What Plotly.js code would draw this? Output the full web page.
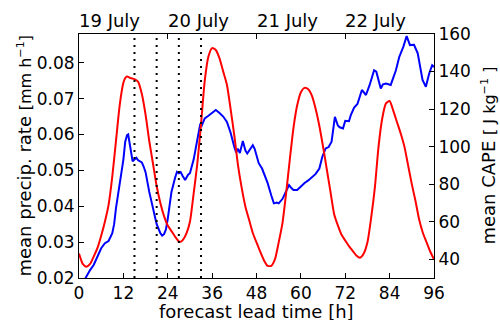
<!DOCTYPE html>
<html>
<head>
<meta charset="utf-8">
<script src="https://cdn.plot.ly/plotly-3.0.1.min.js"></script>
<style>html,body{margin:0;padding:0;background:#fff;}#chart{width:500px;height:320px;}</style>
</head>
<body>
<div id="chart"></div>
<script>
// forecast lead time [h] for the precipitation series
const precipHours = [1.5,2,3,4,5,6,7,7.5,8,9,9.5,10,11,12,12.5,13,13.3,14,14.5,15,15.5,16,17,17.5,18,19,20,21,22,22.5,23,23.5,24,25,26,26.5,27,27.5,28,28.7,29.5,30,31,32,32.8,33.2,34,35,36,37,38,39,40,41,42,42.5,43,43.5,44.3,45,45.5,46,47,47.5,48,48.6,49.5,50,51,52,52.7,53.5,54,55,56,56.8,57.5,58,59,60,61,62,63,64,65,65.8,66.7,67.5,68.3,69.2,70,70.5,71.4,72,73,73.5,74.4,75.3,76.5,77.6,78.6,79.8,80.4,81.6,82.2,83,84.3,85.7,86.6,87.7,88.6,89.5,90.6,91.6,92.9,93.8,94.7,95.5,96];
// mean precipitation rate [mm h^-1]
const precipRate = [0.0195,0.0205,0.0222,0.0237,0.0262,0.0283,0.0297,0.0301,0.0303,0.0325,0.0350,0.0395,0.0462,0.0530,0.0580,0.0598,0.0600,0.0560,0.0525,0.0530,0.0535,0.0528,0.0522,0.0510,0.0495,0.0440,0.0395,0.0350,0.0325,0.0318,0.0322,0.0335,0.0365,0.0440,0.0480,0.0496,0.0492,0.0495,0.0485,0.0473,0.0488,0.0492,0.0530,0.0585,0.0630,0.0625,0.0645,0.0652,0.0660,0.0668,0.0660,0.0650,0.0635,0.0605,0.0565,0.0550,0.0560,0.0548,0.0582,0.0555,0.0547,0.0555,0.0570,0.0560,0.0540,0.0520,0.0505,0.0492,0.0465,0.0430,0.0408,0.0410,0.0408,0.0420,0.0440,0.0459,0.0450,0.0445,0.0445,0.0455,0.0465,0.0472,0.0482,0.0490,0.0505,0.0538,0.0561,0.0565,0.0580,0.0649,0.0625,0.0620,0.0617,0.0638,0.0637,0.0654,0.0675,0.0685,0.0724,0.0710,0.0738,0.0779,0.0775,0.0728,0.0740,0.0742,0.0738,0.0779,0.0816,0.0844,0.0874,0.0849,0.0850,0.0826,0.0752,0.0733,0.0770,0.0793,0.0788];
// forecast lead time [h] for CAPE
const capeHours = [0,0.5,1,2,3,4,5,6,7,8,9,10,11,12,12.5,13,14,15,16,17,18,19,20,21,22,23,24,25,26,27,27.5,28,29,30,31,32,33,34,35,36,37,38,39,40,41,42,43,44,45,46,47,48,49,50,51,52,53,54,55,56,57,58,59,60,61,62,63,64,65,66,67,68,69,70,71,72,73,74,75,76,77,78,79,80,81,82,83,84,85,86,87,88,89,90,91,92,93,94,95,96];
// mean CAPE [J kg^-1]
const capeValues = [43,40,37.5,36,37.5,41.5,46,52.5,60,69,84,103,122,134,136.5,137.3,136.5,136,134.5,128,117,103,91,79,70,63,58,55,52,49.5,49.3,50,53.5,60,75,91,112,135,148,152.5,151.5,147,140,133,120,106,90,78,68,61,54,49,44,39.5,36.5,36.5,40,49,59,75,93,110,122,129,131.3,130.5,127,120,111,100,88,76,64,58,53,50,47,44.5,42,40.8,43,49,62,78,100,115,123,124.3,119,113,107,100,90,80,71,61,54,49,44,40];
// lead times of the dotted markers
const eventHours = [15,21,27,33];
// date labels on the top axis (start of each day)
const dateLabels = ["19 July","20 July","21 July","22 July"];
const dateStartHours = [0,24,48,72];
const dayTicks = [24,48,72];
const bottomTicks = [0,12,24,36,48,60,72,84,96];
const leftTicks = [0.02,0.03,0.04,0.05,0.06,0.07,0.08];
const rightTicks = [40,60,80,100,120,140,160];

const xTitle = "forecast lead time [h]";
const leftTitle = "mean precip. rate <span style=\"font-size:16px\">[mm h<sup>−1</sup>]</span>";
const rightTitle = "mean CAPE <span style=\"font-size:16px\">[ J kg<sup>−1</sup> ]</span>";

const FONT = "DejaVu Sans, sans-serif";

const traces = [
  {x: precipHours, y: precipRate, type: "scatter", mode: "lines", xaxis: "x", yaxis: "y",
   line: {color: "#0000ff", width: 2}, hoverinfo: "skip"},
  {x: capeHours, y: capeValues, type: "scatter", mode: "lines", xaxis: "x", yaxis: "y2",
   line: {color: "#ff0000", width: 2, shape: "spline", smoothing: 0.6}, hoverinfo: "skip"},
  {x: [0,96], y: [null,null], type: "scatter", mode: "lines", xaxis: "x2", yaxis: "y", hoverinfo: "skip", showlegend: false}
];

const shapes = eventHours.map(h => ({
  type: "line", xref: "x", yref: "paper", x0: h, x1: h, y0: 0, y1: 1,
  line: {color: "black", width: 2, dash: "2px,5px"}, layer: "above"
}));

const annotations = dateLabels.map((t, i) => ({
  text: t, xref: "x", yref: "paper", x: dateStartHours[i], y: 1, xanchor: "left", yanchor: "bottom",
  xshift: -2, yshift: 1, showarrow: false, font: {family: FONT, size: 18, color: "black"}
}));
annotations.push(
  {text: xTitle, xref: "paper", yref: "paper", x: 0.5, y: 0, xanchor: "center", yanchor: "top",
   yshift: -21, showarrow: false, font: {family: FONT, size: 18, color: "black"}},
  {text: leftTitle, xref: "paper", yref: "paper", x: -0.156, y: 0.5, xanchor: "center", yanchor: "middle",
   textangle: -90, showarrow: false, font: {family: FONT, size: 18, color: "black"}},
  {text: rightTitle, xref: "paper", yref: "paper", x: 1.151, y: 0.5, xanchor: "center", yanchor: "middle",
   textangle: -90, showarrow: false, font: {family: FONT, size: 18, color: "black"}}
);

const layout = {
  width: 500, height: 320,
  margin: {l: 79, r: 66, t: 34, b: 42},
  paper_bgcolor: "white", plot_bgcolor: "white",
  showlegend: false,
  font: {family: FONT, size: 17, color: "black"},
  xaxis: {range: [0, 96], tickvals: bottomTicks, ticks: "inside", ticklen: 5, tickcolor: "black",
    showline: true, linecolor: "black", linewidth: 1, showgrid: false, zeroline: false,
    tickfont: {family: FONT, size: 17}},
  xaxis2: {overlaying: "x", side: "top", range: [0, 96], tickvals: dayTicks, ticks: "inside", ticklen: 5,
    tickcolor: "black", showticklabels: false, showline: true, linecolor: "black", linewidth: 1,
    showgrid: false, zeroline: false},
  yaxis: {range: [0.02, 0.088], tickvals: leftTicks, tickformat: ".2f", ticks: "inside", ticklen: 5, tickcolor: "black",
    showline: true, linecolor: "black", linewidth: 1, showgrid: false, zeroline: false,
    tickfont: {family: FONT, size: 17}},
  yaxis2: {overlaying: "y", side: "right", range: [30, 160], tickvals: rightTicks, ticks: "inside", ticklen: 5,
    tickcolor: "black", showline: true, linecolor: "black", linewidth: 1, showgrid: false, zeroline: false,
    tickfont: {family: FONT, size: 17}},
  shapes: shapes,
  annotations: annotations
};

Plotly.newPlot("chart", traces, layout, {staticPlot: true, displayModeBar: false});
</script>
</body>
</html>
